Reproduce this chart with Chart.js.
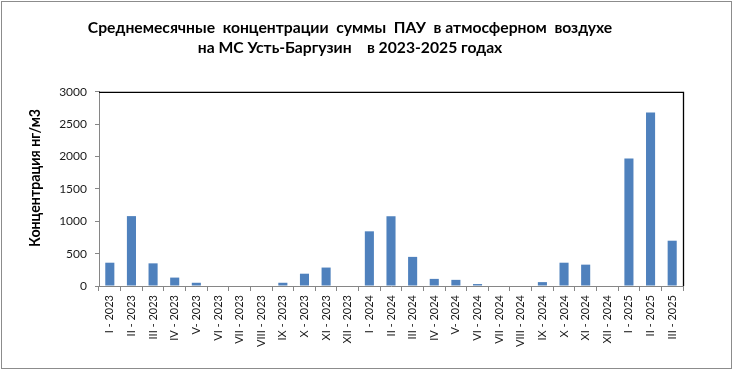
<!DOCTYPE html>
<html>
<head>
<meta charset="utf-8">
<script src="https://cdn.jsdelivr.net/npm/chart.js@4/dist/chart.umd.min.js"></script>
<style>
html,body{margin:0;padding:0;background:#fff;}
canvas{display:block;}
</style>
</head>
<body>
<canvas id="c" width="733" height="371"></canvas>
<script>
const categories = [
  "I - 2023","II - 2023","III - 2023","IV - 2023","V- 2023","VI - 2023","VII - 2023","VIII - 2023","IX - 2023","X - 2023","XI - 2023","XII - 2023",
  "I - 2024","II - 2024","III - 2024","IV - 2024","V- 2024","VI - 2024","VII - 2024","VIII - 2024","IX - 2024","X - 2024","XI - 2024","XII - 2024",
  "I - 2025","II - 2025","III - 2025"
];
const values = [
  360, 1080, 350, 130, 50, 0, 0, 0, 50, 190, 285, 0,
  845, 1078, 450, 110, 95, 30, 0, 0, 60, 360, 330, 0,
  1970, 2680, 700
];
const yTicks = [0, 500, 1000, 1500, 2000, 2500, 3000];
const titleLines = [
  "Среднемесячные  концентрации  суммы  ПАУ  в атмосферном  воздухе",
  "на МС Усть-Баргузин    в 2023-2025 годах"
];
const yTitle = "Концентрация нг/м3";

const FONT = "Lato, 'Open Sans', sans-serif";
const AXIS = "#868686";

const framePlugin = {
  id: 'frame',
  beforeDraw(chart) {
    const ctx = chart.ctx;
    ctx.save();
    ctx.fillStyle = '#ffffff';
    ctx.fillRect(0, 0, chart.width, chart.height);
    ctx.restore();
  },
  afterDraw(chart) {
    const ctx = chart.ctx;
    const a = chart.chartArea;
    ctx.save();
    // plot frame (top and right edges)
    ctx.strokeStyle = '#000000';
    ctx.lineWidth = 1.3;
    ctx.beginPath();
    ctx.moveTo(a.left, a.top + 0.5);
    ctx.lineTo(a.right + 0.5, a.top + 0.5);
    ctx.lineTo(a.right + 0.5, a.bottom);
    ctx.stroke();
    // outer chart border
    ctx.strokeStyle = '#8c8c8c';
    ctx.lineWidth = 1;
    ctx.strokeRect(1.5, 1.5, chart.width - 3, chart.height - 4);
    // y axis title
    ctx.translate(35, (a.top + a.bottom) / 2 - 11);
    ctx.rotate(-Math.PI / 2);
    ctx.fillStyle = '#000';
    ctx.font = "bold 14.2px " + FONT;
    ctx.textAlign = 'center';
    ctx.textBaseline = 'middle';
    ctx.fillText(yTitle, 0, 0);
    ctx.restore();
  }
};

new Chart(document.getElementById('c'), {
  type: 'bar',
  data: {
    labels: categories,
    datasets: [{
      data: values,
      backgroundColor: '#4F81BD',
      borderWidth: 0,
      barPercentage: 0.42,
      categoryPercentage: 1.0
    }]
  },
  options: {
    responsive: false,
    animation: false,
    devicePixelRatio: 1,
    layout: { padding: { left: 17, right: 50, top: 0, bottom: 0 } },
    plugins: {
      legend: { display: false },
      tooltip: { enabled: false },
      title: {
        display: true,
        text: titleLines,
        color: '#000',
        font: { family: FONT, size: 15.7, weight: 'bold', lineHeight: 1.27 },
        padding: { top: 18, bottom: 34 }
      }
    },
    scales: {
      x: {
        offset: true,
        grid: { display: true, drawOnChartArea: false, offset: true, tickLength: 5, color: AXIS, lineWidth: 1 },
        border: { display: true, color: AXIS, width: 1 },
        ticks: {
          autoSkip: false, maxRotation: 90, minRotation: 90, padding: 4,
          color: '#1a1a1a', font: { family: FONT, size: 11 }
        },
        afterFit(scale) { scale.height = 85; }
      },
      y: {
        min: 0, max: 3000,
        afterBuildTicks(scale) { scale.ticks = yTicks.map(v => ({ value: v })); },
        grid: { display: true, drawOnChartArea: false, tickLength: 4, color: AXIS, lineWidth: 1 },
        border: { display: true, color: AXIS, width: 1 },
        ticks: {
          padding: 8, color: '#1a1a1a', font: { family: FONT, size: 12 },
          callback: (v) => String(v)
        },
        title: { display: false },
        afterFit(scale) { scale.width = 82; }
      }
    }
  },
  plugins: [framePlugin]
});
</script>
</body>
</html>
